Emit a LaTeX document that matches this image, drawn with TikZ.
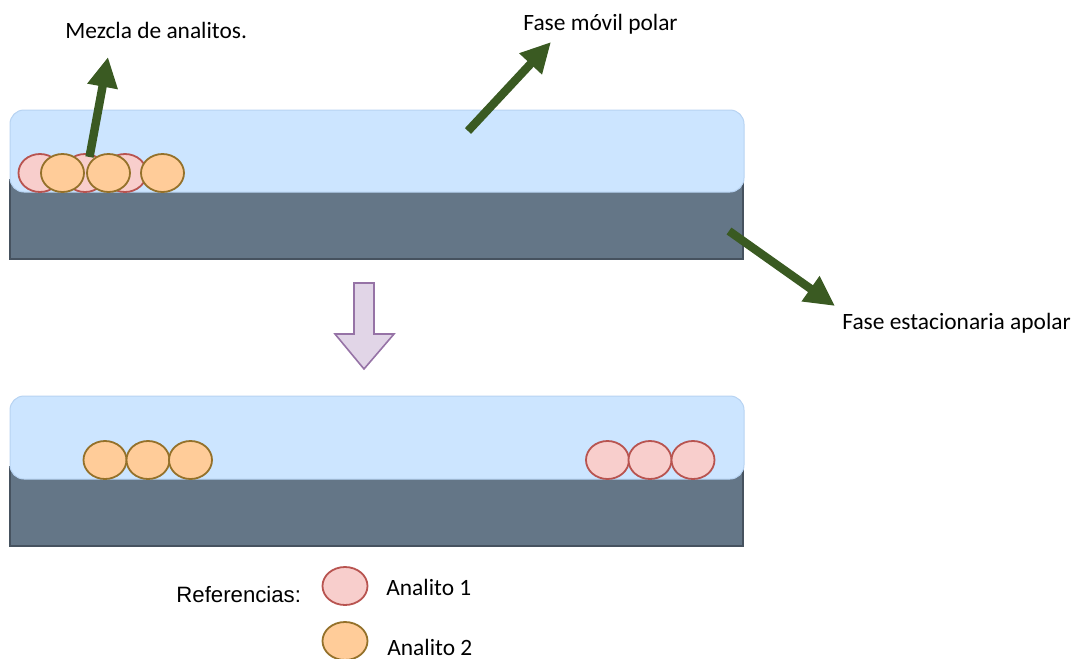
\documentclass[tikz,border=0pt]{standalone}
\usepackage{fontspec}
\setmainfont{Carlito}
\newfontfamily\refsfont{Liberation Sans}
\usetikzlibrary{arrows.meta,shapes.geometric}

\definecolor{mobilefill}{HTML}{CCE5FF}
\definecolor{mobileline}{HTML}{B7D3F2}
\definecolor{statfill}{HTML}{647687}
\definecolor{statline}{HTML}{46525F}
\definecolor{pinkfill}{HTML}{F8CECC}
\definecolor{pinkline}{HTML}{B85450}
\definecolor{orangefill}{HTML}{FFCC99}
\definecolor{orangeline}{HTML}{94712A}
\definecolor{pointer}{HTML}{3A5A22}
\definecolor{flowfill}{HTML}{E1D5E7}
\definecolor{flowline}{HTML}{9673A6}

\tikzset{
  stationary/.style={fill=statfill, draw=statline, line width=0.7pt},
  mobile/.style={fill=mobilefill, draw=mobileline, line width=0.5pt, rounded corners=7pt},
  analitoA/.style={ellipse, fill=pinkfill, draw=pinkline, line width=0.9pt,
    minimum width=21.5pt, minimum height=19pt, inner sep=0pt},
  analitoB/.style={ellipse, fill=orangefill, draw=orangeline, line width=0.9pt,
    minimum width=21.5pt, minimum height=19pt, inner sep=0pt},
  legendA/.style={analitoA, minimum width=22.5pt},
  legendB/.style={analitoB, minimum width=22.5pt},
  pointerarrow/.style={draw=pointer, line width=4.2pt,
    -{Triangle[length=15pt,width=14.5pt]}},
  caption/.style={anchor=base west, inner sep=0pt, font=\fontsize{11.7}{14}\selectfont},
  refcaption/.style={anchor=base west, inner sep=0pt, font=\refsfont\fontsize{11.1}{13}\selectfont},
}

\begin{document}
\begin{tikzpicture}[x=0.5pt,y=-0.5pt]
\useasboundingbox (0,0) rectangle (1072,659);

% ---- upper column: start of the run ----
\draw[stationary] (10,180) rectangle (743,259);
\draw[mobile] (10,110) rectangle (744,192);

\node[analitoA] (u1) at (40,173) {};
\node[analitoA] (u2) at (85,173) {};
\node[analitoA] (u3) at (125,173) {};
\node[analitoB] (u4) at (62.5,173) {};
\node[analitoB] (u5) at (108.5,173) {};
\node[analitoB] (u6) at (162.5,173) {};

% ---- direction of the run ----
\draw[fill=flowfill, draw=flowline, line width=0.8pt, line join=miter]
  (354,283) -- (374,283) -- (374,334) -- (394,334) -- (364,369)
  -- (335,334) -- (354,334) -- cycle;

% ---- lower column: separated analytes ----
\draw[stationary] (10,467) rectangle (743,546);
\draw[mobile] (10,396) rectangle (744,479);

\node[analitoB] (b1) at (105,460) {};
\node[analitoB] (b2) at (148,460) {};
\node[analitoB] (b3) at (190.5,460) {};
\node[analitoA] (a1) at (607.5,460) {};
\node[analitoA] (a2) at (650,460) {};
\node[analitoA] (a3) at (693,460) {};

% ---- labels ----
\node[caption] (mezcla) at (65,38) {Mezcla de analitos.};
\node[caption] (movil) at (523,30) {Fase móvil polar};
\node[caption] (estac) at (842,329) {Fase estacionaria apolar};

\coordinate (m0) at (89.5,157);
\coordinate (m1) at (108,57);
\coordinate (f0) at (468,131);
\coordinate (f1) at (551,42);
\coordinate (s0) at (729,231);
\coordinate (s1) at (835,306);
\draw[pointerarrow] (m0) -- (m1);
\draw[pointerarrow] (f0) -- (f1);
\draw[pointerarrow] (s0) -- (s1);

% ---- legend ----
\node[refcaption] (refs) at (176,602) {Referencias:};
\node[legendA] (k1) at (345,586) {};
\node[legendB] (k2) at (345,641) {};
\node[caption] (k1t) at (386,595) {Analito 1};
\node[caption] (k2t) at (387,655) {Analito 2};
\end{tikzpicture}
\end{document}
